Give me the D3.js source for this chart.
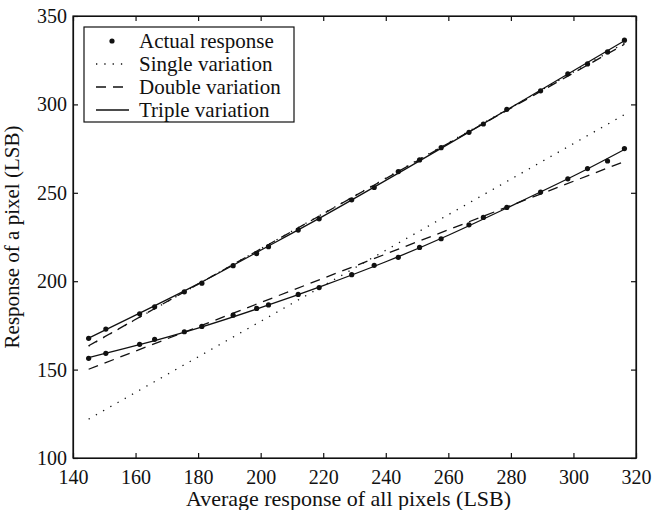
<!DOCTYPE html>
<html>
<head>
<meta charset="utf-8">
<script src="https://cdn.jsdelivr.net/npm/d3@7"></script>
<style>
    body { margin: 0; background: #fff; }
    text { font-family: "Liberation Serif", "Times New Roman", serif; fill: #111; }
</style>
</head>
<body>
<div id="Chart"></div>
<script>
// Average response of all pixels (shared x for both pixels)
var avgResponse = [145, 150.5, 161.3, 166.1, 175.6, 181.2, 191.2, 198.7, 202.5, 212, 218.7, 229.1,
    236.3, 244, 250.8, 257.7, 266.6, 271.2, 278.7, 289.5, 298.2, 304.5, 310.9, 316.3];

// Actual response of the two pixels
var upperActual = [167.7, 172.9, 181.6, 185.5, 194, 198.9, 208.8, 215.6, 219.5, 228.9, 235.3, 246,
    253, 262, 268.6, 275.5, 284.2, 288.9, 297.2, 307.7, 317.3, 322.9, 329.7, 336.3];
var lowerActual = [156.4, 159.2, 164.3, 167.1, 171.4, 174.4, 180.8, 184.6, 186.6, 192.5, 196.4, 203.7,
    209, 213.5, 219.1, 224, 231.9, 236.1, 241.7, 250.4, 257.9, 263.7, 268, 275];

// Single variation (straight lines, end points)
var singleX = [145, 316.3];
var upperSingle = [163.3, 334.6];
var lowerSingle = [122, 294.2];

// Double variation (straight lines, end points)
var doubleX = [145, 316.3];
var upperDouble = [163.5, 334];
var lowerDouble = [150.2, 267.7];

// Triple variation (curves)
var tripleX = [145, 160, 180, 200, 220, 240, 260, 280, 300, 316.3];
var upperTriple = [167.8, 180.8, 198.5, 217.5, 236.8, 257, 277.5, 298.2, 319, 336];
var lowerTriple = [156.8, 163.5, 173.5, 185, 197.5, 211, 226, 242.5, 259.5, 274.5];

var xTicks = [140, 160, 180, 200, 220, 240, 260, 280, 300, 320];
var yTicks = [100, 150, 200, 250, 300, 350];

var legendLabels = ["Actual response", "Single variation", "Double variation", "Triple variation"];

var margin = {top: 16, right: 17, bottom: 52, left: 73};
var width = 653 - margin.left - margin.right;
var height = 510 - margin.top - margin.bottom;

var svg = d3.select("#Chart")
    .append("svg")
    .attr("width", 653)
    .attr("height", 510)
    .append("g")
    .attr("transform", "translate(" + margin.left + "," + margin.top + ")");

var xScale = d3.scaleLinear().domain([140, 320]).range([0, width]);
var yScale = d3.scaleLinear().domain([100, 350]).range([height, 0]);

// Axes with inward ticks on all four sides
svg.append("g")
    .attr("class", "x axis")
    .attr("transform", "translate(0," + height + ")")
    .call(d3.axisBottom(xScale).tickValues(xTicks).tickSizeInner(-5).tickSizeOuter(0).tickPadding(12));

svg.append("g")
    .attr("class", "x axis top")
    .call(d3.axisTop(xScale).tickValues(xTicks).tickSizeInner(-5).tickSizeOuter(0).tickFormat(""));

svg.append("g")
    .attr("class", "y axis")
    .call(d3.axisLeft(yScale).tickValues(yTicks).tickSizeInner(-5).tickSizeOuter(0).tickPadding(6));

svg.append("g")
    .attr("class", "y axis right")
    .attr("transform", "translate(" + width + ",0)")
    .call(d3.axisRight(yScale).tickValues(yTicks).tickSizeInner(-5).tickSizeOuter(0).tickFormat(""));

svg.selectAll(".axis path, .axis line").attr("stroke", "#111").attr("stroke-width", 1.2);
svg.selectAll(".axis text")
    .style("font-size", "20px")
    .style("font-family", "'Liberation Serif', serif")
    .attr("fill", "#111");

// Frame
svg.append("rect")
    .attr("width", width)
    .attr("height", height)
    .attr("fill", "none")
    .attr("stroke", "#111")
    .attr("stroke-width", 1.2);

// Axis titles
svg.append("text")
    .attr("x", width / 2 - 6)
    .attr("y", height + 48)
    .attr("text-anchor", "middle")
    .style("font-size", "22px")
    .text("Average response of all pixels (LSB)");

svg.append("text")
    .attr("transform", "translate(" + (-54) + "," + (height / 2) + ")rotate(-90)")
    .attr("text-anchor", "middle")
    .style("font-size", "21px")
    .text("Response of a pixel (LSB)");

// Line generators
var line = d3.line()
    .x(function (d) { return xScale(d[0]); })
    .y(function (d) { return yScale(d[1]); });
var curve = d3.line()
    .curve(d3.curveNatural)
    .x(function (d) { return xScale(d[0]); })
    .y(function (d) { return yScale(d[1]); });

function pairs(xs, ys) {
    return xs.map(function (x, i) { return [x, ys[i]]; });
}

var fits = [
    {gen: line, x: singleX, y: upperSingle, dash: "1.3,7"},
    {gen: line, x: singleX, y: lowerSingle, dash: "1.3,7"},
    {gen: line, x: doubleX, y: upperDouble, dash: "10,7"},
    {gen: line, x: doubleX, y: lowerDouble, dash: "10,7"},
    {gen: curve, x: tripleX, y: upperTriple, dash: null},
    {gen: curve, x: tripleX, y: lowerTriple, dash: null}
];

fits.forEach(function (f) {
    svg.append("path")
        .datum(pairs(f.x, f.y))
        .attr("d", f.gen)
        .attr("fill", "none")
        .attr("stroke", "#111")
        .attr("stroke-width", 1.3)
        .attr("stroke-dasharray", f.dash);
});

// Actual response points
[upperActual, lowerActual].forEach(function (series) {
    svg.selectAll(null)
        .data(pairs(avgResponse, series))
        .enter()
        .append("circle")
        .attr("cx", function (d) { return xScale(d[0]); })
        .attr("cy", function (d) { return yScale(d[1]); })
        .attr("r", 2.6)
        .attr("fill", "#111");
});

// Legend box
var legend = svg.append("g").attr("transform", "translate(11,11)");
legend.append("rect")
    .attr("width", 210)
    .attr("height", 95)
    .attr("fill", "#fff")
    .attr("stroke", "#111")
    .attr("stroke-width", 1.2);

var legendDash = [null, "1.3,7", "10,7", null];
legendLabels.forEach(function (label, i) {
    var yRow = 14 + i * 23;
    if (i === 0) {
        legend.append("circle")
            .attr("cx", 28)
            .attr("cy", yRow)
            .attr("r", 2.6)
            .attr("fill", "#111");
    } else {
        legend.append("line")
            .attr("x1", 12)
            .attr("x2", 45)
            .attr("y1", yRow)
            .attr("y2", yRow)
            .attr("stroke", "#111")
            .attr("stroke-width", 1.3)
            .attr("stroke-dasharray", legendDash[i]);
    }
    legend.append("text")
        .attr("x", 55)
        .attr("y", yRow + 7)
        .style("font-size", "21px")
        .text(label);
});
</script>
</body>
</html>
